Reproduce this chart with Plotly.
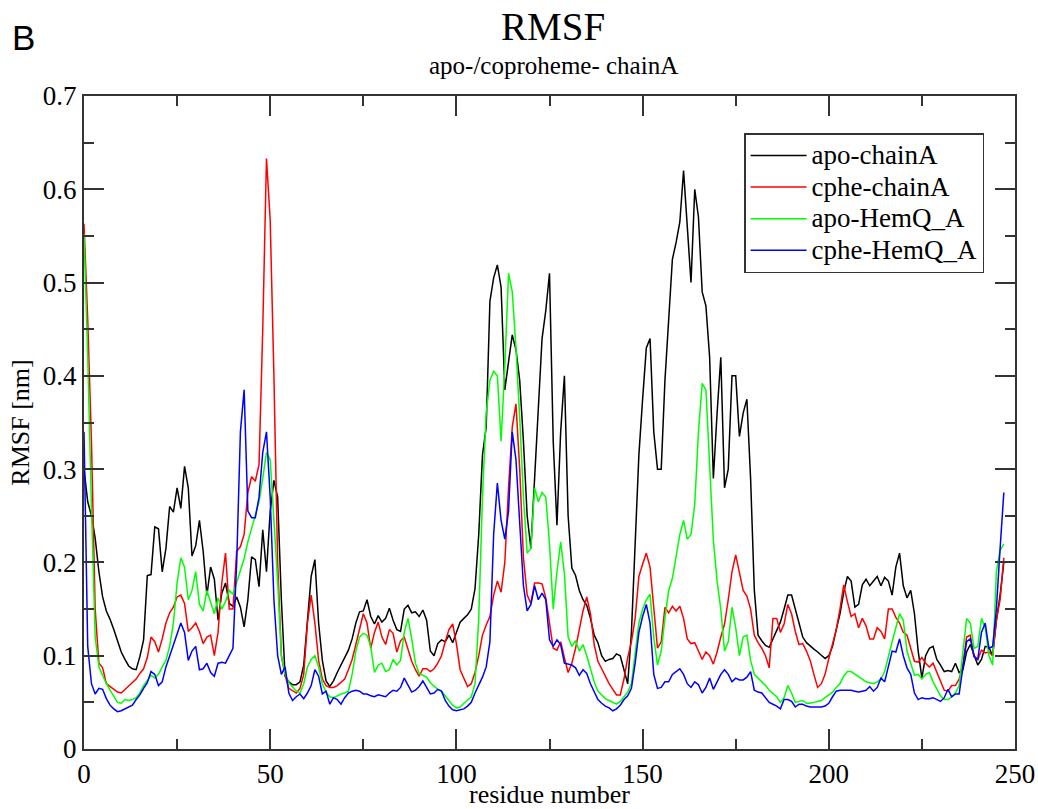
import plotly.graph_objects as go

residues = list(range(0, 248))

apo_chainA = [
0.300,0.265,0.250,0.226,0.190,0.163,0.148,0.139,0.128,0.115,
0.104,0.096,0.089,0.086,0.085,0.099,0.117,0.186,0.187,0.238,
0.236,0.190,0.215,0.260,0.254,0.280,0.258,0.303,0.280,0.207,
0.218,0.245,0.212,0.165,0.195,0.182,0.138,0.167,0.178,0.156,
0.153,0.163,0.152,0.131,0.160,0.206,0.203,0.174,0.235,0.190,
0.255,0.288,0.270,0.160,0.078,0.072,0.069,0.069,0.072,0.090,
0.140,0.185,0.203,0.135,0.095,0.073,0.067,0.073,0.082,0.090,
0.099,0.106,0.118,0.135,0.147,0.148,0.160,0.142,0.134,0.143,
0.136,0.140,0.151,0.138,0.128,0.126,0.150,0.154,0.146,0.147,
0.142,0.149,0.138,0.105,0.100,0.113,0.117,0.115,0.122,0.114,
0.125,0.136,0.140,0.144,0.150,0.172,0.230,0.315,0.345,0.480,
0.505,0.519,0.495,0.385,0.415,0.444,0.428,0.395,0.330,0.250,
0.215,0.290,0.370,0.440,0.470,0.510,0.330,0.240,0.340,0.400,
0.250,0.194,0.186,0.170,0.160,0.154,0.140,0.122,0.114,0.100,
0.094,0.096,0.097,0.102,0.100,0.085,0.070,0.125,0.220,0.315,
0.375,0.430,0.440,0.340,0.300,0.300,0.395,0.465,0.525,0.543,
0.565,0.620,0.560,0.500,0.600,0.570,0.490,0.475,0.420,0.290,
0.360,0.420,0.280,0.300,0.400,0.400,0.335,0.360,0.375,0.290,
0.170,0.122,0.116,0.111,0.109,0.118,0.126,0.136,0.150,0.165,
0.165,0.150,0.135,0.120,0.114,0.110,0.107,0.104,0.100,0.097,
0.100,0.110,0.128,0.145,0.168,0.185,0.180,0.152,0.155,0.176,
0.182,0.175,0.180,0.185,0.175,0.184,0.180,0.165,0.195,0.210,
0.175,0.162,0.170,0.145,0.105,0.076,0.100,0.108,0.110,0.096,
0.090,0.083,0.084,0.083,0.092,0.082,0.085,0.104,0.112,0.100,
0.090,0.096,0.110,0.109,0.100,0.138,0.165,0.200]

cphe_chainA = [
0.563,0.460,0.330,0.150,0.092,0.087,0.070,0.067,0.064,0.061,
0.060,0.064,0.067,0.071,0.075,0.081,0.086,0.098,0.120,0.115,
0.104,0.118,0.135,0.146,0.152,0.163,0.165,0.156,0.126,0.130,
0.135,0.126,0.113,0.120,0.122,0.100,0.125,0.178,0.210,0.150,
0.150,0.212,0.217,0.230,0.275,0.292,0.287,0.305,0.450,0.633,
0.567,0.400,0.200,0.100,0.079,0.065,0.062,0.060,0.065,0.080,
0.135,0.165,0.135,0.095,0.075,0.068,0.066,0.066,0.068,0.071,
0.075,0.085,0.096,0.112,0.127,0.145,0.135,0.108,0.125,0.136,
0.120,0.112,0.128,0.124,0.104,0.116,0.120,0.108,0.094,0.085,
0.078,0.086,0.086,0.083,0.086,0.092,0.100,0.115,0.128,0.134,
0.113,0.085,0.075,0.067,0.070,0.082,0.100,0.122,0.133,0.142,
0.165,0.180,0.168,0.200,0.280,0.345,0.370,0.300,0.205,0.165,
0.156,0.178,0.178,0.177,0.162,0.135,0.108,0.106,0.115,0.098,
0.082,0.092,0.108,0.128,0.148,0.163,0.145,0.112,0.094,0.086,
0.078,0.070,0.064,0.058,0.058,0.075,0.098,0.115,0.140,0.185,
0.198,0.210,0.195,0.150,0.108,0.115,0.152,0.146,0.153,0.148,
0.153,0.140,0.118,0.113,0.114,0.105,0.096,0.104,0.100,0.091,
0.104,0.120,0.134,0.160,0.190,0.208,0.188,0.170,0.164,0.150,
0.122,0.114,0.108,0.100,0.087,0.140,0.140,0.125,0.134,0.155,
0.145,0.126,0.112,0.113,0.105,0.095,0.080,0.066,0.070,0.080,
0.097,0.112,0.128,0.150,0.176,0.158,0.142,0.145,0.130,0.140,
0.132,0.118,0.118,0.130,0.126,0.118,0.150,0.150,0.141,0.135,
0.125,0.122,0.108,0.094,0.093,0.098,0.092,0.088,0.092,0.082,
0.073,0.063,0.062,0.068,0.068,0.075,0.090,0.120,0.122,0.099,
0.096,0.106,0.103,0.104,0.100,0.138,0.160,0.205]

apo_HemQ_A = [
0.552,0.420,0.260,0.120,0.088,0.079,0.070,0.063,0.057,0.050,
0.049,0.053,0.052,0.053,0.055,0.060,0.068,0.073,0.079,0.076,
0.080,0.088,0.095,0.110,0.135,0.178,0.205,0.195,0.160,0.170,
0.190,0.155,0.148,0.170,0.158,0.145,0.162,0.150,0.158,0.170,
0.166,0.178,0.190,0.204,0.222,0.237,0.253,0.265,0.290,0.318,
0.310,0.244,0.180,0.100,0.080,0.071,0.066,0.062,0.060,0.070,
0.088,0.096,0.100,0.088,0.070,0.061,0.056,0.055,0.057,0.059,
0.060,0.062,0.080,0.105,0.120,0.124,0.122,0.110,0.082,0.090,
0.092,0.083,0.085,0.096,0.090,0.095,0.125,0.140,0.118,0.092,
0.081,0.079,0.077,0.071,0.067,0.064,0.062,0.057,0.052,0.047,
0.044,0.045,0.049,0.052,0.056,0.070,0.140,0.270,0.360,0.395,
0.405,0.400,0.330,0.410,0.510,0.490,0.430,0.355,0.270,0.210,
0.215,0.280,0.265,0.275,0.270,0.220,0.150,0.190,0.222,0.188,
0.120,0.110,0.116,0.105,0.112,0.100,0.087,0.072,0.062,0.058,
0.054,0.052,0.050,0.048,0.051,0.056,0.061,0.070,0.100,0.135,
0.150,0.160,0.166,0.120,0.090,0.105,0.140,0.170,0.183,0.205,
0.230,0.245,0.225,0.230,0.262,0.340,0.392,0.385,0.300,0.224,
0.180,0.150,0.105,0.115,0.152,0.130,0.100,0.120,0.122,0.095,
0.080,0.076,0.073,0.068,0.063,0.060,0.056,0.050,0.055,0.068,
0.060,0.050,0.051,0.052,0.049,0.049,0.050,0.051,0.052,0.055,
0.058,0.061,0.066,0.070,0.078,0.083,0.083,0.080,0.077,0.074,
0.072,0.071,0.070,0.072,0.075,0.083,0.100,0.115,0.130,0.145,
0.138,0.105,0.092,0.079,0.080,0.075,0.080,0.082,0.072,0.065,
0.057,0.053,0.053,0.056,0.060,0.068,0.105,0.140,0.135,0.108,
0.110,0.140,0.130,0.100,0.090,0.190,0.213,0.220]

cphe_HemQ_A = [
0.340,0.110,0.070,0.059,0.065,0.064,0.054,0.047,0.043,0.040,
0.041,0.043,0.045,0.047,0.053,0.058,0.065,0.071,0.083,0.080,
0.068,0.072,0.088,0.100,0.112,0.122,0.135,0.125,0.095,0.105,
0.110,0.085,0.086,0.092,0.082,0.078,0.092,0.093,0.092,0.100,
0.108,0.200,0.340,0.385,0.255,0.248,0.248,0.270,0.318,0.340,
0.270,0.160,0.100,0.080,0.088,0.060,0.052,0.056,0.059,0.054,
0.060,0.068,0.085,0.078,0.059,0.062,0.048,0.055,0.053,0.048,
0.055,0.060,0.062,0.063,0.062,0.059,0.059,0.057,0.056,0.058,
0.057,0.056,0.060,0.063,0.062,0.066,0.076,0.068,0.061,0.063,
0.067,0.073,0.066,0.059,0.060,0.064,0.062,0.052,0.046,0.042,
0.041,0.042,0.043,0.046,0.050,0.060,0.068,0.077,0.088,0.115,
0.230,0.285,0.245,0.225,0.255,0.340,0.310,0.240,0.175,0.148,
0.155,0.175,0.160,0.167,0.160,0.117,0.110,0.117,0.112,0.092,
0.091,0.090,0.087,0.079,0.085,0.081,0.070,0.061,0.053,0.049,
0.046,0.044,0.041,0.043,0.047,0.053,0.057,0.065,0.092,0.125,
0.142,0.155,0.135,0.080,0.065,0.066,0.072,0.072,0.080,0.083,
0.086,0.080,0.070,0.066,0.072,0.069,0.060,0.066,0.076,0.064,
0.072,0.080,0.085,0.080,0.072,0.076,0.074,0.074,0.077,0.083,
0.063,0.061,0.060,0.055,0.050,0.048,0.046,0.043,0.053,0.053,
0.051,0.045,0.048,0.048,0.046,0.045,0.045,0.045,0.045,0.046,
0.049,0.056,0.062,0.063,0.063,0.063,0.063,0.062,0.061,0.062,
0.063,0.067,0.062,0.066,0.076,0.072,0.090,0.105,0.104,0.118,
0.100,0.087,0.080,0.060,0.053,0.055,0.054,0.054,0.055,0.053,
0.051,0.055,0.064,0.056,0.059,0.059,0.088,0.115,0.118,0.099,
0.096,0.125,0.135,0.108,0.110,0.150,0.215,0.275]

series_names = ["apo-chainA", "cphe-chainA", "apo-HemQ_A", "cphe-HemQ_A"]
series_values = [apo_chainA, cphe_chainA, apo_HemQ_A, cphe_HemQ_A]
series_colors = ["#000000", "#ff0000", "#00ff00", "#0000ff"]

x_tickvals = [0, 50, 100, 150, 200, 250]
y_tickvals = [0, 0.1, 0.2, 0.3, 0.4, 0.5, 0.6, 0.7]
y_ticktext = ["0", "0.1", "0.2", "0.3", "0.4", "0.5", "0.6", "0.7"]

SERIF = "Liberation Serif"

fig = go.Figure()
for name, vals, col in zip(series_names, series_values, series_colors):
    fig.add_trace(go.Scatter(x=residues, y=vals, mode="lines",
                             name='<span style="font-size:27px">' + name + '</span>',
                             line=dict(color=col, width=1.5)))

axis_common = dict(
    showgrid=False, zeroline=False, showline=True, linecolor="#333333",
    linewidth=2, mirror="allticks", ticks="inside", ticklen=20, tickwidth=1.5,
    tickcolor="#333333", tickfont=dict(family=SERIF, size=27, color="#000000"),
    automargin=False,
)

fig.update_xaxes(range=[0, 250], tickvals=x_tickvals,
                 minor=dict(dtick=25, tick0=0, ticks="inside", ticklen=10,
                            tickwidth=1.5, tickcolor="#333333"),
                 title=dict(text="residue number", font=dict(family=SERIF, size=26, color="#000000"),
                            standoff=2),
                 **axis_common)
fig.update_yaxes(range=[0, 0.7], tickvals=y_tickvals, ticktext=y_ticktext,
                 minor=dict(dtick=0.05, tick0=0, ticks="inside", ticklen=10,
                            tickwidth=1.5, tickcolor="#333333"),
                 title=dict(text="RMSF [nm]", font=dict(family=SERIF, size=26, color="#000000"),
                            standoff=6),
                 **axis_common)

fig.update_layout(
    width=1038, height=809,
    margin=dict(l=84, r=23, t=96, b=60),
    paper_bgcolor="white", plot_bgcolor="white",
    showlegend=True,
    legend=dict(x=0.709, y=0.943, xanchor="left", yanchor="top",
                bgcolor="white", bordercolor="#333333", borderwidth=1.5,
                font=dict(family=SERIF, size=22, color="#000000"),
                itemwidth=56),
    annotations=[
        dict(text="RMSF", xref="paper", yref="paper", x=0.504, y=1.107,
             xanchor="center", yanchor="middle", showarrow=False,
             font=dict(family=SERIF, size=39, color="#000000")),
        dict(text="apo-/coproheme- chainA", xref="paper", yref="paper", x=0.504, y=1.046,
             xanchor="center", yanchor="middle", showarrow=False,
             font=dict(family=SERIF, size=25, color="#000000")),
        dict(text="B", xref="paper", yref="paper", x=-0.0655, y=1.090,
             xanchor="center", yanchor="middle", showarrow=False,
             font=dict(family="Liberation Sans", size=35, color="#000000")),
    ],
)

fig.write_html("out.html")
